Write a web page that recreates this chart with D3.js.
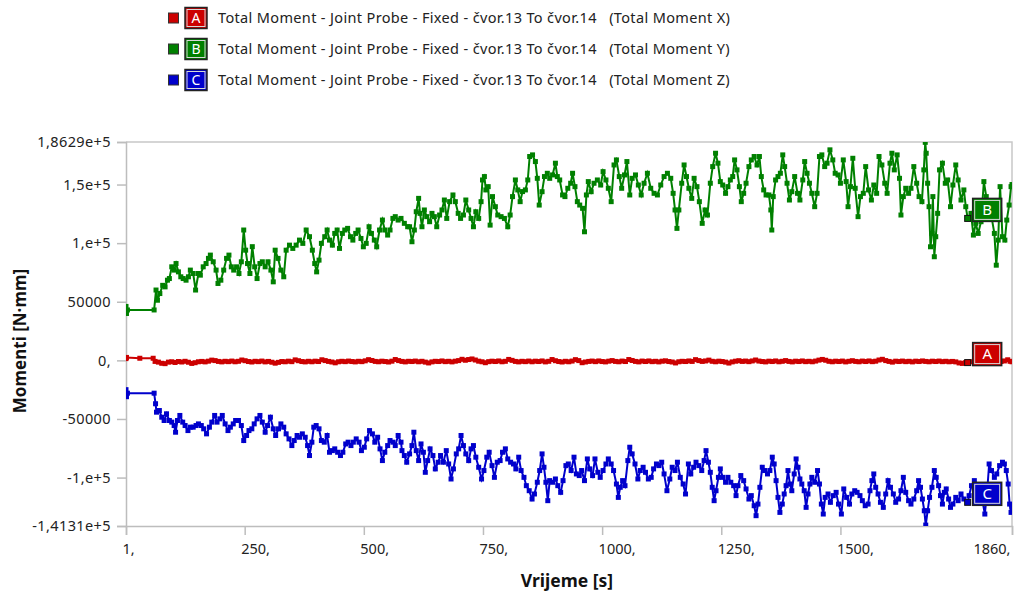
<!DOCTYPE html>
<html><head><meta charset="utf-8">
<script src="https://cdn.jsdelivr.net/npm/d3@7/dist/d3.min.js"></script>
<style>body{margin:0;background:#fff}svg{display:block}</style>
</head><body>
<svg id="chart" width="1014" height="593"></svg>
<script>
// ---------- data ----------
const seriesLetters = ["A", "B", "C"];
const seriesNames = [
  "Total Moment - Joint Probe - Fixed - čvor.13 To čvor.14   (Total Moment X)",
  "Total Moment - Joint Probe - Fixed - čvor.13 To čvor.14   (Total Moment Y)",
  "Total Moment - Joint Probe - Fixed - čvor.13 To čvor.14   (Total Moment Z)"
];
const seriesColors = ["#cc0000", "#008000", "#0000cc"];

const xTicks = [1, 250, 500, 750, 1000, 1250, 1500, 1860];
const xTickLabels = ["1,", "250,", "500,", "750,", "1000,", "1250,", "1500,", "1860,"];
const yTicks = [186290, 150000, 100000, 50000, 0, -50000, -100000, -141310];
const yTickLabels = ["1,8629e+5", "1,5e+5", "1,e+5", "50000", "0,", "-50000", "-1,e+5", "-1,4131e+5"];
const xTitle = "Vrijeme [s]";
const yTitle = "Momenti [N·mm]";
const labelTime = 1767;

// Total Moment X  [time s, moment N·mm]
const momentX = [[1,1500],[2,2500],[30,1800],[58,1800],[62,-900],[69,-1500],[76,-2500],[83,-2800],[90,-1500],[97,-1200],[104,-1800],[111,-1000],[118,-1400],[125,-800],[132,-1600],[139,-2600],[146,-2000],[153,-1200],[160,-900],[167,-1300],[174,-700],[181,200],[188,-200],[195,-900],[202,-1300],[209,-800],[216,-1100],[223,-600],[230,-1200],[237,-800],[244,300],[251,-300],[258,-1000],[265,-1400],[272,-800],[279,-1100],[286,-600],[293,-1300],[300,-900],[307,-1600],[314,-2400],[321,-1700],[328,-1000],[335,-1200],[342,-700],[349,-1100],[356,400],[363,-300],[370,-1000],[377,-1300],[384,-800],[391,-1200],[398,-700],[405,-1000],[412,500],[419,-200],[426,-900],[433,-1400],[440,-2100],[447,-1200],[454,-800],[461,-1100],[468,-600],[475,-1000],[482,-1300],[489,-800],[496,-1100],[503,-400],[510,600],[517,-100],[524,-900],[531,-1200],[538,-700],[545,-1000],[552,-1400],[559,-700],[566,700],[573,-200],[580,-900],[587,-1300],[594,-800],[601,-1000],[608,-600],[615,-1200],[622,-800],[629,-1500],[636,-2200],[643,-1300],[650,-800],[657,-1000],[664,-500],[671,-1100],[678,-800],[685,-1300],[692,-700],[699,-200],[706,900],[713,100],[720,700],[727,1200],[734,300],[741,-700],[748,-1200],[755,-2000],[762,-1100],[769,-700],[776,-1000],[783,-500],[790,-1200],[797,-800],[804,800],[811,0],[818,-900],[825,-1300],[832,-800],[839,-1100],[846,-600],[853,-1200],[860,-700],[867,-1000],[874,-500],[881,-1300],[888,-800],[895,700],[902,-300],[909,-1000],[916,-1400],[923,-800],[930,-1200],[937,-600],[944,600],[951,-200],[958,-2000],[965,-1400],[972,-900],[979,-600],[986,-1100],[993,-500],[1000,-1000],[1007,-1300],[1014,-700],[1021,-200],[1028,-900],[1035,-1200],[1042,-600],[1049,-1000],[1056,700],[1063,-100],[1070,-900],[1077,-1300],[1084,-600],[1091,-1000],[1098,-500],[1105,-1100],[1112,-800],[1119,-1300],[1126,-700],[1133,-400],[1140,-1000],[1147,-1400],[1154,-2200],[1161,-1200],[1168,-800],[1175,-1000],[1182,-500],[1189,-900],[1196,600],[1203,-200],[1210,-900],[1217,-500],[1224,200],[1231,-800],[1238,-1200],[1245,-700],[1252,-1000],[1259,-1500],[1266,-2300],[1273,-1300],[1280,-700],[1287,-300],[1294,-900],[1301,-600],[1308,-1100],[1315,-500],[1322,300],[1329,-600],[1336,-1000],[1343,-1300],[1350,-700],[1357,-1000],[1364,-500],[1371,-1200],[1378,-800],[1385,-200],[1392,-900],[1399,-1300],[1406,-700],[1413,-1000],[1420,-500],[1427,-1100],[1434,-800],[1441,-1200],[1448,-600],[1455,200],[1462,800],[1469,100],[1476,-800],[1483,-1200],[1490,-700],[1497,-1000],[1504,-600],[1511,-1300],[1518,-800],[1525,-300],[1532,-900],[1539,-1200],[1546,-600],[1553,-1000],[1560,-500],[1567,-1100],[1574,-700],[1581,300],[1588,900],[1595,-200],[1602,-900],[1609,-1500],[1616,-700],[1623,-1000],[1630,-600],[1637,-1100],[1644,-800],[1651,-1300],[1658,-700],[1665,-1000],[1672,-500],[1679,-900],[1686,-1200],[1693,-700],[1700,-1000],[1707,-600],[1714,-1100],[1721,-800],[1728,-1200],[1735,-900],[1742,-1300],[1749,-2200],[1756,-2600],[1762,-2000],[1767,-1900],[1774,-1200],[1781,-800],[1788,-1100],[1795,-700],[1802,-1000],[1809,-500],[1816,-900],[1823,-1300],[1830,-700],[1837,-1000],[1844,-500],[1851,500],[1856,-800],[1860,-1200]];

// Total Moment Y
const momentY = [[1,46000],[2,40000],[4,43000],[60,43000],[64,60000],[67,51300],[72,57000],[78,64000],[83,62700],[88,68400],[92,69800],[97,79800],[102,77000],[106,82600],[111,75500],[116,71300],[121,69800],[127,68400],[132,71300],[136,77000],[142,74100],[147,60000],[153,74100],[157,72700],[163,79800],[169,82600],[174,87000],[178,89800],[184,84100],[190,77000],[194,65600],[200,68400],[206,77000],[212,87000],[217,89800],[222,79800],[227,77000],[233,79800],[238,74100],[243,84100],[248,111200],[252,94000],[256,82600],[261,74100],[266,97000],[271,79800],[276,69800],[282,82600],[287,84100],[293,79800],[299,84100],[305,77000],[310,67000],[314,94000],[320,87000],[326,77000],[332,71300],[337,94000],[344,98300],[351,95500],[358,98300],[365,102600],[372,99800],[379,111200],[386,105500],[392,94000],[397,82600],[401,75500],[406,85500],[411,99800],[418,105500],[423,111200],[428,102600],[434,98300],[439,108300],[444,111200],[449,95500],[455,108300],[460,111200],[466,112600],[472,105500],[477,102600],[483,108300],[488,111200],[494,104000],[499,96900],[505,99800],[511,114000],[516,108300],[522,102600],[527,96900],[533,111200],[539,119700],[544,111200],[550,106900],[555,111200],[561,121100],[566,122600],[572,119700],[578,121100],[585,116900],[592,114000],[596,114000],[601,101200],[606,111200],[610,126800],[615,138200],[618,125400],[622,114000],[627,128300],[632,122600],[638,118300],[643,125400],[648,122600],[653,114000],[659,124000],[664,128300],[669,136800],[674,121100],[680,135400],[687,141100],[692,135400],[698,125400],[703,121100],[709,124000],[714,136800],[720,128300],[725,121100],[730,114000],[735,126800],[741,121100],[746,135400],[749,153900],[753,156800],[756,145400],[761,148200],[765,115400],[770,139700],[776,131100],[781,124000],[788,122600],[795,121100],[802,114000],[807,124000],[812,139700],[818,153900],[823,145400],[828,135400],[833,144000],[839,145400],[844,153900],[848,173900],[854,175300],[860,169600],[864,155300],[868,132500],[874,143900],[879,156800],[885,159600],[890,155300],[896,158200],[902,168200],[906,156800],[911,153900],[917,141100],[922,139700],[928,146800],[934,151100],[938,159600],[943,148200],[948,135400],[953,132500],[959,129700],[963,109700],[967,141100],[971,152500],[977,143900],[983,151100],[990,153900],[997,149600],[1002,161000],[1008,153900],[1013,146800],[1019,135400],[1025,166700],[1030,171000],[1036,156800],[1041,146800],[1047,158200],[1052,169600],[1058,141100],[1063,155300],[1070,158200],[1076,149600],[1082,141100],[1088,151100],[1095,159600],[1102,146800],[1109,142500],[1116,141100],[1123,149600],[1130,156800],[1137,159600],[1144,155300],[1149,142500],[1153,128300],[1157,112600],[1161,128300],[1167,151100],[1172,166700],[1177,156800],[1182,146800],[1188,138200],[1193,155300],[1199,148200],[1204,135400],[1210,116900],[1216,128300],[1221,124000],[1227,151100],[1232,165300],[1238,176700],[1243,168200],[1248,152500],[1253,149600],[1259,142500],[1264,148200],[1269,153900],[1274,156800],[1278,171000],[1283,162500],[1288,148200],[1292,135400],[1297,142500],[1302,151100],[1308,165300],[1313,171000],[1319,173900],[1325,166700],[1330,173900],[1334,156800],[1339,145400],[1344,141100],[1350,141100],[1354,128300],[1356,111200],[1359,139700],[1364,153900],[1369,156800],[1374,159600],[1379,175300],[1383,165300],[1388,151100],[1393,136800],[1398,143900],[1404,156800],[1410,142500],[1415,136800],[1421,153900],[1425,169600],[1430,159600],[1435,151100],[1440,142500],[1446,131100],[1451,142500],[1456,173900],[1461,175300],[1467,165300],[1472,168200],[1478,179600],[1484,171000],[1489,159600],[1495,158200],[1500,151100],[1506,171000],[1512,152500],[1516,131100],[1521,148200],[1526,172400],[1531,146800],[1537,122600],[1542,139700],[1548,142500],[1553,165300],[1559,145400],[1565,136800],[1570,149600],[1576,142500],[1581,173900],[1587,166700],[1593,151100],[1598,142500],[1604,168200],[1608,176700],[1613,162500],[1619,175300],[1624,155300],[1627,124000],[1632,139700],[1637,146800],[1643,142500],[1648,146800],[1654,165300],[1660,151100],[1665,139700],[1671,135400],[1675,162500],[1678,186000],[1680,176700],[1683,151100],[1686,131100],[1689,96900],[1692,108300],[1694,139700],[1697,88400],[1700,105500],[1704,125400],[1708,162500],[1714,168200],[1720,151100],[1725,153900],[1731,131100],[1736,149600],[1742,166700],[1747,153900],[1753,136800],[1759,145400],[1763,131100],[1767,121100],[1774,125400],[1779,106900],[1784,116900],[1789,108300],[1795,118300],[1801,152500],[1806,139700],[1812,128300],[1817,122600],[1823,108300],[1827,81200],[1831,102600],[1835,148200],[1840,105500],[1845,102600],[1849,119700],[1854,132500],[1858,148200],[1860,150000]];

// Total Moment Z
const momentZ = [[1,-25000],[2,-31000],[4,-28000],[60,-28000],[63,-37000],[65,-44200],[71,-42800],[76,-48500],[81,-51300],[86,-45600],[92,-51300],[97,-52700],[102,-55600],[105,-61300],[109,-51300],[114,-47000],[120,-52700],[125,-55600],[131,-59900],[136,-57000],[142,-57000],[148,-55600],[153,-54200],[159,-55600],[164,-58400],[170,-62700],[176,-57000],[181,-52700],[187,-47000],[192,-52700],[198,-49900],[203,-47000],[209,-54200],[215,-59900],[220,-57000],[226,-54200],[231,-51300],[237,-51300],[243,-55600],[248,-68400],[254,-64100],[259,-59900],[265,-58400],[270,-54200],[276,-49900],[282,-47000],[287,-52700],[293,-61300],[298,-55600],[304,-48500],[310,-58400],[315,-64100],[321,-58400],[326,-54200],[332,-57000],[337,-62700],[343,-67000],[349,-72700],[354,-68400],[360,-64100],[365,-65600],[371,-62700],[377,-65600],[382,-72700],[386,-81200],[391,-69800],[395,-57000],[400,-55600],[406,-58400],[411,-68400],[417,-69800],[423,-64100],[428,-78400],[434,-77000],[439,-75500],[445,-78400],[451,-81200],[456,-78400],[462,-71300],[467,-69800],[473,-72700],[478,-69800],[484,-67000],[490,-69800],[495,-77000],[501,-74100],[506,-67000],[512,-59900],[518,-62700],[523,-69800],[529,-65600],[534,-75500],[539,-85500],[544,-78400],[550,-72700],[555,-68400],[561,-69800],[566,-72700],[572,-64100],[578,-69800],[580,-77000],[585,-81200],[590,-86900],[596,-79800],[601,-72700],[605,-61300],[610,-77000],[615,-85500],[620,-71300],[625,-78400],[629,-95500],[634,-85500],[639,-75500],[645,-81200],[650,-92600],[656,-86900],[661,-81200],[667,-86900],[673,-77000],[678,-88400],[683,-101200],[688,-92600],[694,-79800],[699,-75500],[704,-64100],[709,-72700],[714,-79800],[720,-85500],[725,-75500],[730,-72700],[735,-82600],[741,-91200],[747,-101200],[752,-94000],[758,-82600],[763,-78400],[769,-89800],[774,-99800],[780,-86900],[786,-85500],[791,-78400],[797,-75500],[802,-84100],[808,-86900],[814,-88400],[819,-92600],[825,-82600],[830,-94000],[836,-99800],[841,-106900],[847,-111200],[853,-118300],[858,-114000],[864,-104000],[869,-94000],[874,-79800],[878,-91200],[882,-104000],[886,-119700],[890,-102600],[896,-104000],[902,-101200],[907,-106900],[913,-112600],[918,-102600],[924,-89800],[929,-88400],[935,-94000],[941,-82600],[946,-96900],[952,-98300],[957,-94000],[963,-102600],[969,-84100],[974,-92600],[980,-98300],[985,-84100],[991,-95500],[996,-99800],[1002,-94000],[1008,-88400],[1013,-84100],[1019,-88400],[1024,-94000],[1030,-105500],[1034,-116900],[1038,-108300],[1043,-102600],[1048,-106900],[1054,-85500],[1058,-74100],[1063,-79800],[1069,-88400],[1075,-101200],[1080,-94000],[1086,-91200],[1091,-95500],[1097,-101200],[1103,-99800],[1108,-92600],[1114,-88400],[1119,-89800],[1125,-86900],[1130,-96900],[1136,-111200],[1142,-101200],[1147,-91200],[1153,-94000],[1158,-86900],[1164,-99800],[1170,-105500],[1175,-114000],[1181,-88400],[1186,-96900],[1192,-91200],[1197,-86900],[1203,-89800],[1209,-94000],[1214,-85500],[1218,-77000],[1223,-86900],[1227,-95500],[1231,-108300],[1235,-119700],[1239,-111200],[1244,-99800],[1248,-92600],[1253,-99800],[1259,-104000],[1264,-99800],[1270,-104000],[1276,-106900],[1281,-115400],[1285,-106900],[1291,-98300],[1297,-102600],[1302,-109700],[1308,-118300],[1313,-115400],[1319,-124000],[1323,-132500],[1327,-122600],[1331,-108300],[1336,-91200],[1341,-94000],[1347,-96900],[1352,-94000],[1357,-82600],[1361,-88400],[1365,-102600],[1369,-116900],[1373,-129700],[1378,-122600],[1382,-114000],[1386,-106900],[1390,-94000],[1394,-105500],[1398,-111200],[1403,-96900],[1407,-84100],[1411,-91200],[1415,-101200],[1419,-105500],[1424,-111200],[1428,-125400],[1432,-114000],[1436,-105500],[1440,-99800],[1446,-104000],[1452,-94000],[1456,-105500],[1460,-122600],[1464,-131100],[1468,-116900],[1474,-114000],[1479,-121100],[1485,-115400],[1491,-112600],[1496,-122600],[1502,-131100],[1507,-109700],[1513,-116900],[1519,-122600],[1524,-114000],[1530,-111200],[1535,-112600],[1541,-115400],[1546,-119700],[1552,-124000],[1558,-122600],[1562,-111200],[1566,-102600],[1570,-96900],[1574,-108300],[1579,-114000],[1584,-121100],[1590,-125400],[1595,-114000],[1600,-102600],[1605,-108300],[1611,-114000],[1616,-121100],[1622,-118300],[1627,-111200],[1632,-99800],[1637,-112600],[1643,-119700],[1648,-122600],[1654,-118300],[1660,-111200],[1664,-102600],[1668,-108300],[1672,-118300],[1676,-128300],[1679,-140500],[1683,-128300],[1687,-116900],[1692,-108300],[1697,-94000],[1701,-99800],[1706,-106900],[1710,-115400],[1714,-122600],[1718,-112600],[1722,-109700],[1727,-118300],[1731,-125400],[1736,-122600],[1742,-116900],[1747,-119700],[1753,-114000],[1759,-118300],[1767,-121100],[1770,-115400],[1775,-106900],[1781,-102600],[1787,-108300],[1792,-111200],[1798,-119700],[1803,-131100],[1808,-111200],[1812,-88400],[1817,-94000],[1823,-99800],[1828,-96900],[1834,-89800],[1840,-86900],[1844,-88400],[1848,-94000],[1852,-105500],[1855,-122600],[1858,-129700],[1860,-125000]];

const seriesData = [momentX, momentY, momentZ];

// ---------- layout ----------
const plot = {left: 126, right: 1012, top: 142, bottom: 526};
const FONT = "'Noto Sans', 'Open Sans', sans-serif";

const svg = d3.select("#chart");
const x = d3.scaleLinear().domain([1, 1860]).range([plot.left, plot.right]);
const y = d3.scaleLinear().domain([-141310, 186290]).range([plot.bottom, plot.top]);

svg.append("defs").append("clipPath").attr("id", "clip")
  .append("rect").attr("x", plot.left).attr("y", plot.top)
  .attr("width", plot.right - plot.left).attr("height", plot.bottom - plot.top);

// frame (top & right)
svg.append("path")
  .attr("d", `M${plot.left},${plot.top}H${plot.right}V${plot.bottom}`)
  .attr("fill", "none").attr("stroke", "#c8c8c8").attr("stroke-width", 1.5);

// y axis
const yAxis = svg.append("g").attr("transform", `translate(${plot.left},0)`)
  .call(d3.axisLeft(y).tickValues(yTicks).tickFormat((d, i) => yTickLabels[i]).tickSize(9).tickPadding(6));
yAxis.select(".domain").attr("stroke", "#bdbdbd").attr("stroke-width", 1.5);
yAxis.selectAll(".tick line").attr("stroke", "#bdbdbd").attr("stroke-width", 1.5);
yAxis.selectAll(".tick text").attr("font-family", FONT).attr("font-size", 14.5)
  .attr("letter-spacing", 0.4).attr("fill", "#222");

// x axis
const xAxis = svg.append("g").attr("transform", `translate(0,${plot.bottom})`)
  .call(d3.axisBottom(x).tickValues(xTicks).tickFormat((d, i) => xTickLabels[i]).tickSize(9).tickPadding(9));
xAxis.select(".domain").attr("stroke", "#bdbdbd").attr("stroke-width", 1.5);
xAxis.selectAll(".tick line").attr("stroke", "#bdbdbd").attr("stroke-width", 1.5);
xAxis.selectAll(".tick text").attr("font-family", FONT).attr("font-size", 14.5).attr("fill", "#222")
  .attr("text-anchor", (d, i) => i === xTicks.length - 1 ? "end" : "start")
  .attr("dx", (d, i) => i === xTicks.length - 1 ? -2 : -4);

// axis titles
svg.append("text").attr("x", 567).attr("y", 587)
  .attr("text-anchor", "middle").attr("font-family", FONT).attr("font-weight", "bold")
  .attr("font-size", 17.5).attr("fill", "#111").text(xTitle);
svg.append("text").attr("transform", `translate(26,${341}) rotate(-90)`)
  .attr("text-anchor", "middle").attr("font-family", FONT).attr("font-weight", "bold")
  .attr("font-size", 17).attr("fill", "#111").text(yTitle);

// series
const line = d3.line().x(d => x(d[0])).y(d => y(d[1]));
const plotG = svg.append("g").attr("clip-path", "url(#clip)");
seriesData.forEach((data, si) => {
  const g = plotG.append("g");
  g.append("path").datum(data).attr("d", line)
    .attr("fill", "none").attr("stroke", seriesColors[si]).attr("stroke-width", 2);
  const m = 5;
  g.selectAll("rect").data(data).join("rect")
    .attr("x", d => x(d[0]) - m / 2).attr("y", d => y(d[1]) - m / 2)
    .attr("width", m).attr("height", m).attr("fill", seriesColors[si]);
});

// in-plot labels
function letterBox(g, bx, by, w, h, color, letter, fs) {
  g.append("rect").attr("x", bx).attr("y", by).attr("width", w).attr("height", h)
    .attr("fill", color).attr("stroke", "#222").attr("stroke-width", 1.5);
  g.append("rect").attr("x", bx + 2).attr("y", by + 2).attr("width", w - 4).attr("height", h - 4)
    .attr("fill", "none").attr("stroke", "#d8d8d8").attr("stroke-width", 1);
  g.append("text").attr("x", bx + w / 2).attr("y", by + h / 2 + fs * 0.36)
    .attr("text-anchor", "middle").attr("font-family", FONT).attr("font-size", fs)
    .attr("fill", "#fff").text(letter);
}
const labelG = svg.append("g");
seriesData.forEach((data, si) => {
  const p = data.reduce((a, b) => Math.abs(b[0] - labelTime) < Math.abs(a[0] - labelTime) ? b : a);
  const ax = x(p[0]), ay = y(p[1]);
  labelG.append("rect").attr("x", ax - 3).attr("y", ay - 3).attr("width", 6).attr("height", 6)
    .attr("fill", seriesColors[si]).attr("stroke", "#111").attr("stroke-width", 1);
  letterBox(labelG, ax + 5, ay - 20, 29, 23, seriesColors[si], seriesLetters[si], 15);
});

// legend
const legendRows = [18, 49, 80];
const legend = svg.append("g");
seriesNames.forEach((name, si) => {
  const cy = legendRows[si];
  legend.append("rect").attr("x", 168.5).attr("y", cy - 5).attr("width", 10).attr("height", 10)
    .attr("fill", seriesColors[si]).attr("stroke", "#333").attr("stroke-width", 1);
  letterBox(legend, 185, cy - 10.5, 22, 21, seriesColors[si], seriesLetters[si], 14);
  legend.append("text").attr("x", 218).attr("y", cy + 5)
    .attr("font-family", FONT).attr("font-size", 14.5).attr("letter-spacing", 0.35).attr("fill", "#222")
    .style("white-space", "pre").text(name);
});
</script>
</body></html>
